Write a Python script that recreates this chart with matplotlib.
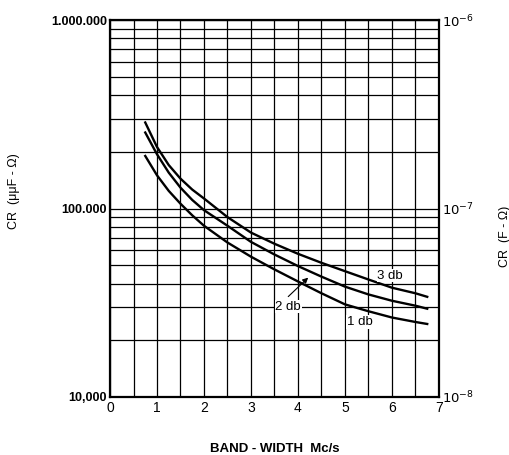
import matplotlib.pyplot as plt
from matplotlib.ticker import FixedLocator, MultipleLocator, NullFormatter

# band-width (Mc/s) and CR (uuF-ohm)
bw = [0.75, 1.0, 1.25, 1.5, 1.75, 2.0, 2.5, 3.0, 3.5, 4.0, 4.5, 5.0, 5.5,
      6.0, 6.5, 6.75]
cr_3db = [286000, 212000, 170000, 144000, 126000, 113000, 90000, 74500,
          65000, 57500, 51500, 46500, 42000, 38000, 35500, 34000]
cr_2db = [253000, 194000, 155000, 129000, 111000, 98000, 81000, 66500,
          57000, 49500, 43500, 38500, 35000, 32400, 30500, 29400]
cr_1db = [190000, 150000, 124000, 106000, 92000, 81000, 66000, 55500,
          47500, 41000, 35500, 31000, 28500, 26400, 25000, 24400]

y_ticks = [10000, 100000, 1000000]
y_labels = ['10,000', '100.000', '1.000.000']
x_ticks = [0, 1, 2, 3, 4, 5, 6, 7]
right_ticks = [1e-8, 1e-7, 1e-6]
right_labels = ['$10^{-8}$', '$10^{-7}$', '$10^{-6}$']

plt.rcParams['font.family'] = ['Liberation Sans', 'DejaVu Sans']

fig = plt.figure(figsize=(5.1, 4.55), dpi=100)
ax = fig.add_axes([0.2157, 0.1275, 0.645, 0.8285])

ax.set_yscale('log')
ax.set_xlim(0, 7)
ax.set_ylim(10000, 1000000)

# grid every half unit across, every log minor step up
ax.xaxis.set_major_locator(FixedLocator(x_ticks))
ax.xaxis.set_minor_locator(MultipleLocator(0.5))
minors = [m * 10 ** e for e in (4, 5) for m in range(2, 10)]
ax.yaxis.set_major_locator(FixedLocator(y_ticks))
ax.yaxis.set_minor_locator(FixedLocator(minors))
ax.yaxis.set_minor_formatter(NullFormatter())
ax.set_yticklabels(y_labels)
ax.grid(True, which='both', color='black', linewidth=0.9)
ax.tick_params(which='both', length=0)
ax.tick_params(axis='x', labelsize=10, pad=3)
ax.tick_params(axis='y', labelsize=9, pad=2)
for lbl in ax.get_yticklabels():
    lbl.set_fontweight('bold')
for s in ax.spines.values():
    s.set_linewidth(1.6)

for vals in (cr_3db, cr_2db, cr_1db):
    ax.plot(bw, vals, color='black', linewidth=1.7)

box = dict(facecolor='white', edgecolor='none', pad=0.5)
ax.text(5.96, 44000, '3 db', fontsize=9.5, ha='center', va='center', bbox=box)
ax.text(3.79, 30100, '2 db', fontsize=9.5, ha='center', va='center', bbox=box)
ax.text(5.32, 25000, '1 db', fontsize=9.5, ha='center', va='center', bbox=box)
ax.annotate('', xy=(4.26, 44000), xytext=(3.75, 33300),
            arrowprops=dict(arrowstyle='-|>', color='black', lw=0.8,
                            mutation_scale=8))

ax.set_xlabel('BAND - WIDTH  Mc/s', fontsize=9.5, fontweight='bold', labelpad=20)
fig.text(0.028, 0.58, 'CR  (\u03bc\u03bcF - \u03a9)', rotation=90, fontsize=9,
         ha='center', va='center')

# equivalent scale in F-ohm on the right
ax2 = ax.twinx()
ax2.set_yscale('log')
ax2.set_ylim(1e-8, 1e-6)
ax2.yaxis.set_major_locator(FixedLocator(right_ticks))
ax2.yaxis.set_minor_locator(FixedLocator([]))
ax2.set_yticklabels(right_labels)
ax2.tick_params(which='both', length=0, labelsize=9.5, pad=2)
for s in ax2.spines.values():
    s.set_visible(False)
fig.text(0.99, 0.48, 'CR  (F - \u03a9)', rotation=90, fontsize=9,
         ha='center', va='center')

fig.savefig('out.png', dpi=100)
